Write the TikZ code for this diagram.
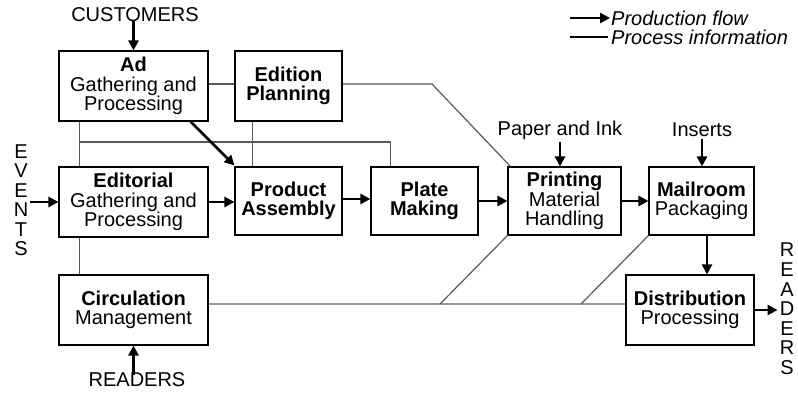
\documentclass[tikz,border=0pt]{standalone}
\usepackage{fontspec}
\setmainfont{Liberation Sans}
\usetikzlibrary{arrows.meta,calc}
\begin{document}
\begin{tikzpicture}[x=1pt,y=-1pt,
  box/.style={draw=black,line width=1.1pt,minimum width=#1,inner sep=0pt,align=center,
    font=\fontsize{20}{19.5}\selectfont},
  lbl/.style={inner sep=0pt,font=\fontsize{20}{19.5}\selectfont},
  vert/.style={inner sep=0pt,align=center,font=\fontsize{20}{19.5}\selectfont},
  flow/.style={line width=2.5pt,-{Triangle[length=10pt,width=10pt]}},
  info/.style={line width=1.2pt,draw=black!65},
  infothick/.style={line width=1.9pt,draw=black!40}]
\useasboundingbox (0,0) rectangle (798,393);
% boxes
\node[box=149pt,minimum height=70pt] (ad) at (133.5,86) {\textbf{Ad}\\Gathering and\\Processing};
\node[box=107pt,minimum height=70pt] (ed) at (288.5,86) {\textbf{Edition}\\\textbf{Planning}};
\node[box=149pt,minimum height=70pt] (edi) at (133.5,202) {\textbf{Editorial}\\Gathering and\\Processing};
\node[box=107pt,minimum height=68pt] (pa) at (288.5,201) {\textbf{Product}\\\textbf{Assembly}};
\node[box=107pt,minimum height=68pt] (pm) at (424.5,201) {\textbf{Plate}\\\textbf{Making}};
\node[box=113pt,minimum height=68pt] (pr) at (564.5,201) {\textbf{Printing}\\Material\\Handling};
\node[box=105pt,minimum height=68pt] (mr) at (701.5,201) {\textbf{Mailroom}\\Packaging};
\node[box=128pt,minimum height=70pt] (di) at (690,310) {\textbf{Distribution}\\Processing};
\node[box=149pt,minimum height=70pt] (ci) at (133.5,310) {\textbf{Circulation}\\Management};
% labels
\node[lbl] (cust) at (135,15) {CUSTOMERS};
\node[lbl] (readb) at (137,380) {READERS};
\node[lbl] (paper) at (560,130) {Paper and Ink};
\node[lbl] (ins) at (702,130) {Inserts};
\node[vert] (ev) at (21,200) {E\\V\\E\\N\\T\\S};
\node[vert,font=\fontsize{20}{19.6}\selectfont] (rdr) at (787,309) {R\\E\\A\\D\\E\\R\\S};
% legend
\node[lbl,anchor=west,font=\fontsize{20}{19.5}\itshape] (l1) at (611,18) {Production flow};
\node[lbl,anchor=west,font=\fontsize{20}{19.5}\itshape] (l2) at (611,37) {Process information};
\draw[flow] ([xshift=-41pt]l1.west) -- ([xshift=-1pt]l1.west);
\draw[line width=1.1pt] ([xshift=-41pt]l2.west) -- ([xshift=-3pt]l2.west);
% information lines
\coordinate (h1) at (80,142);
\coordinate (k1) at (432,84);
\coordinate (d1) at (440,304);
\coordinate (d2) at (581,304);
\draw[info] ([yshift=2pt]ad.east) -- ([yshift=2pt]ed.west);
\draw[info] ([yshift=2pt]ed.east) -- (k1) -- ([xshift=3pt]pr.north west);
\draw[info] ([xshift=21pt]ad.south west) -- ([xshift=21pt]edi.north west);
\draw[info] (h1) -| ([xshift=20pt]pm.north west);
\draw[info] ([xshift=18pt]ed.south west) -- ([xshift=18pt]pa.north west);
\draw[info] ([xshift=21pt]edi.south west) -- ([xshift=21pt]ci.north west);
\draw[infothick] ([yshift=6pt]ci.east) -- ([yshift=6pt]di.west);
\draw[info] (pr.south west) -- (d1);
\draw[info] (mr.south west) -- (d2);
% production flow
\draw[flow] ([yshift=1pt]cust.south -| ad.north) -- (ad.north);
\draw[flow] ([yshift=-2pt]readb.north -| ci.south) -- (ci.south);
\draw[flow] ([xshift=-18pt]ad.south east) -- ([yshift=1pt]pa.north west);
\draw[flow] ([xshift=2pt]ev.east |- edi.west) -- (edi.west);
\draw[flow] (edi.east) -- (pa.west |- edi.east);
\draw[flow] ([yshift=2pt]pa.east) -- ([yshift=2pt]pm.west);
\draw[flow] (pm.east) -- (pr.west);
\draw[flow] (pr.east) -- (mr.west);
\draw[flow] ([xshift=5.5pt]mr.south) -- ([xshift=5.5pt]mr.south |- di.north);
\draw[flow] (di.east) -- ([xshift=-2pt]rdr.west |- di.east);
\draw[flow] ([yshift=-2pt]paper.south) -- (paper.south |- pr.north);
\draw[flow] ([yshift=-2pt]ins.south) -- (ins.south |- mr.north);
\end{tikzpicture}
\end{document}
